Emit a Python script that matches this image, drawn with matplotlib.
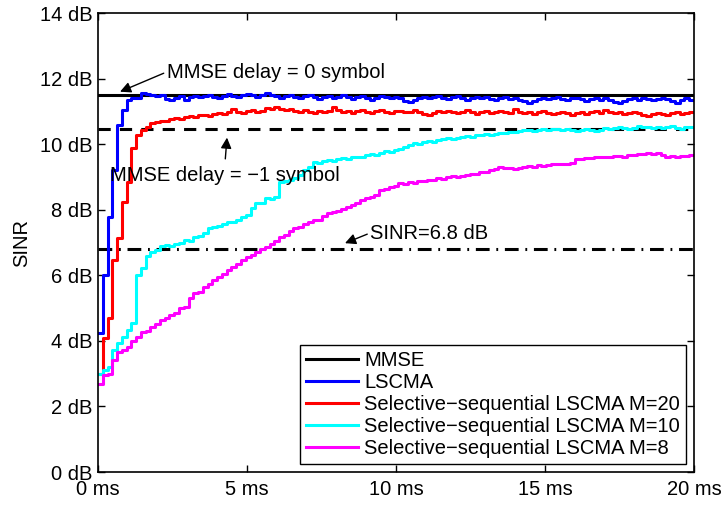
import matplotlib
matplotlib.use('Agg')
import matplotlib.pyplot as plt
import numpy as np

STEP_MS = 0.16

MMSE_DELAY0 = 11.5
MMSE_DELAY_M1 = 10.45
SINR_TARGET = 6.8

lscma = [
    4.24, 6.0, 7.77, 9.2, 10.58, 11.04, 11.34, 11.41, 11.41, 11.55,
    11.52, 11.5, 11.47, 11.5, 11.38, 11.34, 11.42, 11.46, 11.36, 11.44,
    11.47, 11.43, 11.48, 11.5, 11.45, 11.41, 11.47, 11.52, 11.48, 11.45,
    11.5, 11.53, 11.49, 11.45, 11.5, 11.56, 11.51, 11.46, 11.42, 11.47,
    11.5, 11.45, 11.4, 11.46, 11.49, 11.43, 11.38, 11.44, 11.48, 11.42,
    11.45, 11.5, 11.44, 11.39, 11.43, 11.47, 11.41, 11.36, 11.42, 11.46,
    11.44, 11.4, 11.45, 11.41, 11.33, 11.28, 11.36, 11.42, 11.45, 11.4,
    11.44, 11.47, 11.42, 11.38, 11.43, 11.46, 11.4, 11.36, 11.42, 11.45,
    11.41, 11.44, 11.39, 11.35, 11.4, 11.43, 11.38, 11.42, 11.36, 11.31,
    11.27, 11.33, 11.39, 11.42, 11.37, 11.41, 11.44, 11.39, 11.35, 11.4,
    11.42, 11.37, 11.33, 11.38, 11.41, 11.36, 11.4, 11.35, 11.29, 11.26,
    11.32, 11.37, 11.4, 11.36, 11.41, 11.38, 11.34, 11.39, 11.42, 11.37,
    11.33, 11.27, 11.35, 11.4, 11.36,
]

ss_m20 = [
    3.0, 4.08, 4.7, 6.46, 7.13, 8.23, 8.84, 9.88, 10.27, 10.43,
    10.53, 10.64, 10.68, 10.72, 10.7, 10.76, 10.8, 10.78, 10.83, 10.86,
    10.84, 10.88, 10.9, 10.87, 10.92, 10.95, 10.91, 10.97, 11.08, 10.98,
    10.94, 11.0, 11.05, 10.99, 11.02, 11.1, 11.06, 11.12, 11.08, 11.03,
    11.06, 11.0, 10.98, 11.03, 10.99, 10.96, 11.02, 10.98, 11.0, 11.14,
    11.05, 10.98, 11.0, 10.96, 11.02, 11.04, 10.99, 10.95, 11.0, 11.03,
    10.98, 10.94, 11.0, 11.02, 10.97, 10.99, 11.03, 10.98, 10.92, 10.88,
    10.95, 11.0, 10.97, 11.02, 10.98, 10.94, 10.99, 11.03, 10.97, 10.93,
    10.97, 11.01, 10.96, 10.99, 11.02, 10.97, 10.94, 11.08, 10.99, 10.95,
    10.98, 10.93, 10.97, 11.0, 10.95, 10.92, 10.96, 10.99, 10.94, 10.9,
    10.95, 10.98, 10.93, 10.97, 11.0, 10.96, 11.05, 10.98, 10.94, 10.97,
    10.93, 10.96, 10.99, 10.94, 10.9, 10.86, 10.92, 10.96, 10.93, 10.89,
    10.94, 10.97, 10.92, 10.95, 10.97,
]

ss_m10 = [
    3.0, 3.1, 3.2, 3.72, 3.93, 4.12, 4.33, 4.54, 6.0, 6.22,
    6.6, 6.72, 6.78, 6.89, 6.92, 6.9, 6.95, 6.98, 7.07, 7.05,
    7.17, 7.2, 7.3, 7.45, 7.48, 7.5, 7.55, 7.63, 7.62, 7.7,
    7.78, 7.85, 8.05, 8.2, 8.22, 8.35, 8.33, 8.39, 8.85, 8.88,
    8.92, 8.96, 9.05, 9.2, 9.3, 9.46, 9.44, 9.48, 9.51, 9.5,
    9.55, 9.58, 9.56, 9.6, 9.62, 9.61, 9.66, 9.7, 9.68, 9.74,
    9.78, 9.76, 9.82, 9.85, 9.92, 9.96, 10.03, 10.0, 10.06, 10.1,
    10.08, 10.13, 10.16, 10.18, 10.15, 10.2, 10.22, 10.24, 10.22, 10.27,
    10.27, 10.3, 10.28, 10.32, 10.35, 10.33, 10.38, 10.38, 10.4, 10.42,
    10.43, 10.41, 10.44, 10.46, 10.43, 10.47, 10.45, 10.42, 10.46, 10.44,
    10.41, 10.44, 10.47, 10.43, 10.4, 10.44, 10.48, 10.45, 10.5, 10.53,
    10.49, 10.46, 10.5, 10.55, 10.51, 10.53, 10.49, 10.52, 10.48, 10.51,
    10.54, 10.5, 10.47, 10.51, 10.52,
]

ss_m8 = [
    2.7, 2.96, 3.0, 3.41, 3.67, 3.72, 3.82, 4.0, 4.12, 4.28,
    4.3, 4.43, 4.5, 4.63, 4.7, 4.79, 4.85, 5.0, 5.04, 5.3,
    5.45, 5.5, 5.65, 5.75, 5.85, 5.95, 6.05, 6.15, 6.25, 6.35,
    6.48, 6.56, 6.62, 6.7, 6.8, 6.85, 6.95, 7.05, 7.17, 7.22,
    7.35, 7.45, 7.48, 7.55, 7.62, 7.68, 7.7, 7.8, 7.9, 7.94,
    7.97, 8.03, 8.09, 8.15, 8.2, 8.29, 8.35, 8.38, 8.45, 8.6,
    8.62, 8.7, 8.72, 8.81, 8.8, 8.84, 8.82, 8.87, 8.88, 8.9,
    8.92, 8.96, 8.94, 9.0, 9.02, 9.0, 9.04, 9.05, 9.08, 9.1,
    9.16, 9.14, 9.2, 9.25, 9.3, 9.27, 9.28, 9.25, 9.27, 9.3,
    9.33, 9.31, 9.35, 9.33, 9.37, 9.38, 9.4, 9.41, 9.41, 9.44,
    9.56, 9.55, 9.58, 9.57, 9.6, 9.6, 9.62, 9.6, 9.63, 9.64,
    9.62, 9.66, 9.66, 9.69, 9.71, 9.73, 9.7, 9.72, 9.68, 9.61,
    9.63, 9.62, 9.65, 9.64, 9.66,
]

x_ticks = [0, 5, 10, 15, 20]
y_ticks = [0, 2, 4, 6, 8, 10, 12, 14]

plt.rcParams['font.family'] = ['Liberation Sans', 'DejaVu Sans']
FS = 14.5
LW = 2.2


def stairs(values):
    t = np.arange(len(values) + 1) * STEP_MS
    t[-1] = 20
    v = list(values) + [values[-1]]
    return t, v


fig = plt.figure(figsize=(7.23, 5.05), dpi=100)
ax = fig.add_axes([0.1355, 0.0653, 0.8243, 0.9089])

ax.axhline(MMSE_DELAY0, color='black', lw=LW, label='MMSE')
ax.axhline(MMSE_DELAY_M1, color='black', lw=LW, dashes=(4, 3))
ax.axhline(SINR_TARGET, color='black', lw=LW, dashes=(4.5, 2.2, 0.6, 2.2))

series = [
    (lscma, (0, 0, 1), 'LSCMA'),
    (ss_m20, (1, 0, 0), 'Selective\u2212sequential LSCMA M=20'),
    (ss_m10, (0, 1, 1), 'Selective\u2212sequential LSCMA M=10'),
    (ss_m8, (1, 0, 1), 'Selective\u2212sequential LSCMA M=8'),
]
for vals, col, lab in series:
    t, v = stairs(vals)
    ax.plot(t, v, color=col, lw=LW, drawstyle='steps-post', label=lab)

ax.set_xlim(0, 20)
ax.set_ylim(0, 14)
ax.set_xticks(x_ticks)
ax.set_xticklabels(['{} ms'.format(x) for x in x_ticks])
ax.set_yticks(y_ticks)
ax.set_yticklabels(['{} dB'.format(y) for y in y_ticks])
ax.tick_params(direction='in', top=True, right=True, length=5, width=1,
               labelsize=FS)
ax.tick_params(axis='x', pad=6)
ax.tick_params(axis='y', pad=4)
for s in ax.spines.values():
    s.set_linewidth(1.2)
ax.set_ylabel('SINR', fontsize=FS, labelpad=6)

arrow = dict(arrowstyle='-|>', color='black', lw=1, mutation_scale=16,
             shrinkA=0, shrinkB=0)
ax.annotate('MMSE delay = 0 symbol', xy=(0.74, 11.6), xytext=(2.3, 12.2),
            fontsize=FS, ha='left', va='center',
            arrowprops=dict(arrow, relpos=(0, 0.5)))
ax.annotate('MMSE delay = \u22121 symbol', xy=(4.33, 10.2), xytext=(0.4, 9.05),
            fontsize=FS, ha='left', va='center',
            arrowprops=dict(arrow, relpos=(0.5, 1.0), shrinkA=3))
ax.annotate('SINR=6.8 dB', xy=(8.29, 6.98), xytext=(9.13, 7.29),
            fontsize=FS, ha='left', va='center',
            arrowprops=dict(arrow, relpos=(0, 0.5)))

leg = ax.legend(loc='lower right', fontsize=FS, fancybox=False,
                edgecolor='black', framealpha=1, handlelength=2.6,
                handletextpad=0.3, labelspacing=0.15, borderpad=0.3,
                borderaxespad=0.4)
leg.get_frame().set_linewidth(1)

fig.savefig('out.png', dpi=100)
